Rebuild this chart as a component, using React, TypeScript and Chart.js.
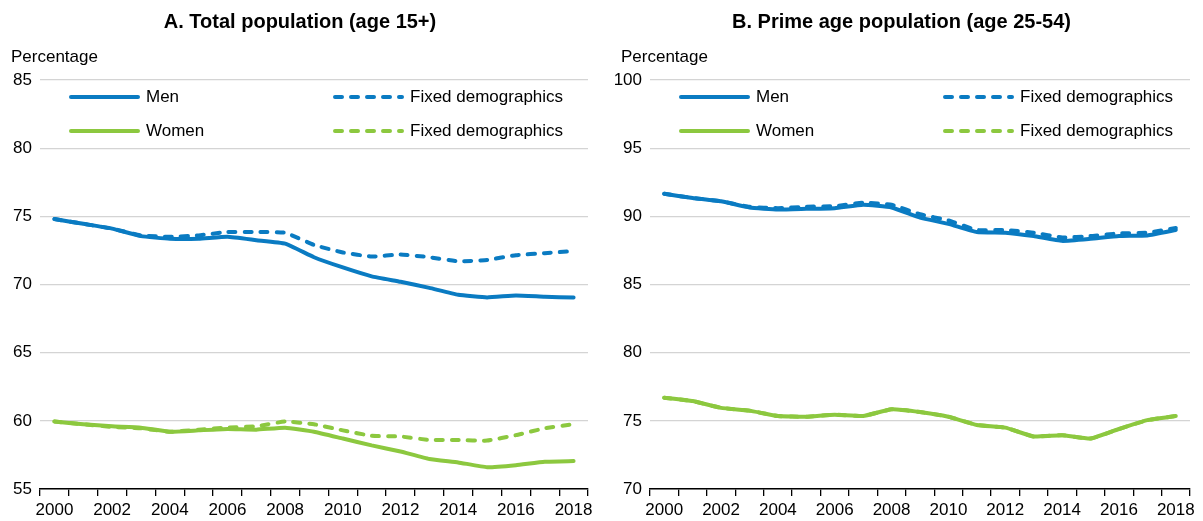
import React, { useEffect, useRef } from "react";
import { Chart, registerables } from "chart.js";

Chart.register(...registerables);

const FONT = '"Liberation Sans", Arial, sans-serif';
const BLUE = "#0a7bc2";
const GREEN = "#8cc83f";

const years = ["2000", "2001", "2002", "2003", "2004", "2005", "2006", "2007", "2008", "2009", "2010", "2011", "2012", "2013", "2014", "2015", "2016", "2017", "2018"];

// Panel A: Total population (age 15+)
const menTotal = [74.8, 74.45, 74.1, 73.55, 73.35, 73.35, 73.5, 73.25, 73.0, 72.0, 71.25, 70.6, 70.2, 69.75, 69.25, 69.05, 69.2, 69.1, 69.05];
const menTotalFixed = [74.8, 74.45, 74.1, 73.6, 73.5, 73.6, 73.85, 73.85, 73.8, 72.9, 72.35, 72.05, 72.2, 72.0, 71.7, 71.8, 72.15, 72.3, 72.45];
const womenTotal = [59.95, 59.75, 59.6, 59.5, 59.2, 59.3, 59.4, 59.35, 59.5, 59.2, 58.7, 58.2, 57.75, 57.2, 56.95, 56.6, 56.75, 57.0, 57.05];
const womenTotalFixed = [59.95, 59.75, 59.55, 59.45, 59.2, 59.35, 59.5, 59.6, 59.95, 59.75, 59.3, 58.9, 58.85, 58.6, 58.6, 58.55, 58.95, 59.45, 59.75];

// Panel B: Prime age population (age 25-54)
const menPrime = [91.65, 91.35, 91.1, 90.65, 90.5, 90.55, 90.6, 90.85, 90.65, 89.9, 89.45, 88.85, 88.8, 88.55, 88.2, 88.35, 88.55, 88.6, 89.0];
const menPrimeFixed = [91.65, 91.35, 91.1, 90.7, 90.6, 90.7, 90.75, 91.0, 90.85, 90.15, 89.7, 89.0, 89.0, 88.8, 88.45, 88.55, 88.75, 88.8, 89.15];
const womenPrime = [76.7, 76.45, 75.95, 75.75, 75.35, 75.3, 75.45, 75.35, 75.85, 75.65, 75.3, 74.7, 74.5, 73.85, 73.95, 73.7, 74.4, 75.05, 75.35];
const womenPrimeFixed = [76.7, 76.45, 75.95, 75.75, 75.35, 75.3, 75.45, 75.35, 75.85, 75.65, 75.3, 74.7, 74.5, 73.85, 73.95, 73.7, 74.4, 75.05, 75.35];

const legendRows = [
  { solid: "Men", dashed: "Fixed demographics", color: BLUE },
  { solid: "Women", dashed: "Fixed demographics", color: GREEN },
];

type PanelProps = {
  title: string;
  yMin: number;
  yMax: number;
  men: number[];
  menFixed: number[];
  women: number[];
  womenFixed: number[];
  width: number;
  yAxisWidth: number;
  padRight: number;
};

function Panel(p: PanelProps) {
  const ref = useRef<HTMLCanvasElement>(null);
  useEffect(() => {
    if (!ref.current) return;
    const overlay = {
      id: "overlay",
      afterDraw(chart: any) {
        const { ctx, chartArea } = chart;
        ctx.save();
        // Title
        ctx.fillStyle = "#000";
        ctx.font = `bold 20px ${FONT}`;
        ctx.textAlign = "center";
        ctx.textBaseline = "middle";
        ctx.fillText(p.title, chart.width / 2, 22);
        // Unit label
        ctx.font = `17px ${FONT}`;
        ctx.textAlign = "left";
        ctx.fillText("Percentage", chartArea.left - 29, 57);
        // Legend
        legendRows.forEach((row, i) => {
          const y = chartArea.top + 17 + i * 34;
          ctx.lineWidth = 4;
          ctx.lineCap = "round";
          ctx.strokeStyle = row.color;
          ctx.setLineDash([]);
          ctx.beginPath();
          ctx.moveTo(chartArea.left + 31, y);
          ctx.lineTo(chartArea.left + 98, y);
          ctx.stroke();
          ctx.setLineDash([7, 9]);
          ctx.beginPath();
          ctx.moveTo(chartArea.left + 295, y);
          ctx.lineTo(chartArea.left + 362, y);
          ctx.stroke();
          ctx.setLineDash([]);
          ctx.fillStyle = "#000";
          ctx.fillText(row.solid, chartArea.left + 106, y);
          ctx.fillText(row.dashed, chartArea.left + 370, y);
        });
        ctx.restore();
      },
    };
    const line = (data: number[], color: string, dashed: boolean, order: number) => ({
      data,
      borderColor: color,
      backgroundColor: color,
      borderWidth: 4,
      borderDash: dashed ? [7, 9] : [],
      borderCapStyle: "round",
      borderJoinStyle: "round",
      pointRadius: 0,
      tension: 0.12,
      fill: false,
      order,
    });
    const chart = new Chart(ref.current, {
      type: "line",
      data: {
        labels: years,
        datasets: [
          line(p.menFixed, BLUE, true, 0),
          line(p.men, BLUE, false, 1),
          line(p.womenFixed, GREEN, true, 0),
          line(p.women, GREEN, false, 1),
        ] as any,
      },
      options: {
        responsive: false,
        animation: false,
        devicePixelRatio: 1,
        layout: { padding: { top: 80, right: p.padRight, left: 0, bottom: 0 } },
        plugins: { legend: { display: false }, title: { display: false }, tooltip: { enabled: false } },
        scales: {
          x: {
            type: "category",
            offset: true,
            afterFit: (s: any) => {
              s.height = 32;
            },
            grid: {
              display: true,
              offset: true,
              drawOnChartArea: false,
              drawTicks: true,
              tickLength: 7,
              color: "#000",
              lineWidth: 1.3,
            },
            border: { display: true, color: "#000", width: 1.5 },
            ticks: {
              autoSkip: false,
              maxRotation: 0,
              minRotation: 0,
              padding: 4,
              color: "#000",
              font: { family: FONT, size: 17 },
              callback: (_v: any, i: number) => (i % 2 === 0 ? years[i] : ""),
            },
          },
          y: {
            min: p.yMin,
            max: p.yMax,
            afterFit: (s: any) => {
              s.width = p.yAxisWidth;
            },
            grid: { color: "#d4d4d4", lineWidth: 1.2, drawTicks: false },
            border: { display: false },
            ticks: {
              stepSize: 5,
              padding: 8,
              color: "#000",
              font: { family: FONT, size: 17 },
            },
          },
        },
      } as any,
      plugins: [overlay],
    });
    return () => chart.destroy();
  }, []);
  return <canvas ref={ref} width={p.width} height={521} style={{ display: "block", width: p.width, height: 521 }} />;
}

export default function App() {
  return (
    <div style={{ position: "absolute", left: 0, top: 0, width: 1203, height: 521, display: "flex", background: "#fff" }}>
      <Panel
        title="A. Total population (age 15+)"
        yMin={55}
        yMax={85}
        men={menTotal}
        menFixed={menTotalFixed}
        women={womenTotal}
        womenFixed={womenTotalFixed}
        width={600}
        yAxisWidth={40}
        padRight={12}
      />
      <Panel
        title="B. Prime age population (age 25-54)"
        yMin={70}
        yMax={100}
        men={menPrime}
        menFixed={menPrimeFixed}
        women={womenPrime}
        womenFixed={womenPrimeFixed}
        width={603}
        yAxisWidth={50}
        padRight={13}
      />
    </div>
  );
}
